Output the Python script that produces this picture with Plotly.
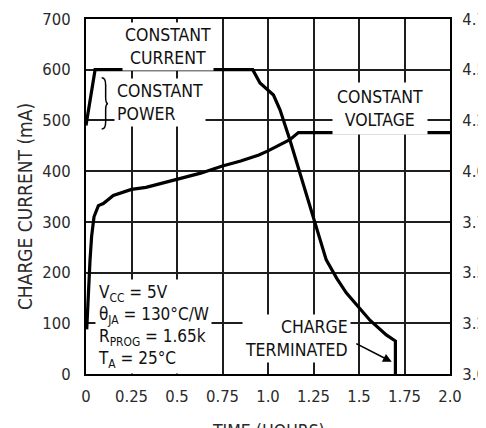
import plotly.graph_objects as go

# ---- data ----
time_current = [0.0, 0.05, 0.916, 0.956, 1.03, 1.066, 1.12, 1.176, 1.24, 1.32, 1.377, 1.43, 1.56, 1.65, 1.70, 1.70]
charge_current_ma = [490, 600, 600, 574, 550, 521, 462, 396, 318, 225, 189, 160, 106, 77, 65, 0]

time_voltage = [0.004, 0.013, 0.022, 0.031, 0.044, 0.068, 0.095, 0.15, 0.25, 0.33, 0.5, 0.63, 0.75, 0.85, 0.95, 1.0, 1.12, 1.167, 2.0]
battery_voltage_v = [3.22, 3.415, 3.56, 3.68, 3.775, 3.83, 3.84, 3.88, 3.91, 3.92, 3.96, 3.99, 4.025, 4.05, 4.08, 4.10, 4.155, 4.19, 4.19]

x_tickvals = [0, 0.25, 0.5, 0.75, 1.0, 1.25, 1.5, 1.75, 2.0]
x_ticktext = ["0", "0.25", "0.5", "0.75", "1.0", "1.25", "1.5", "1.75", "2.0"]
y_tickvals = [0, 100, 200, 300, 400, 500, 600, 700]
y2_tickvals = [3.0, 3.25, 3.5, 3.75, 4.0, 4.25, 4.5, 4.75]
y2_ticktext = ["3.00", "3.25", "3.50", "3.75", "4.00", "4.25", "4.50", "4.75"]

FONT = "DejaVu Sans Condensed, Liberation Sans Narrow, sans-serif"
INK = "#111111"
LABEL = "#2a2a2a"
GRID = "#1e1e1e"
ANN = 17.5

fig = go.Figure()
fig.add_trace(go.Scatter(x=time_current, y=charge_current_ma, mode="lines",
                         line=dict(color="#000000", width=3.2), showlegend=False, yaxis="y"))
fig.add_trace(go.Scatter(x=time_voltage, y=battery_voltage_v, mode="lines",
                         line=dict(color="#000000", width=3.2), showlegend=False, yaxis="y2"))

tickfont = dict(family=FONT, size=16.5, color=LABEL)

# the page body has an 8px margin, so the figure is sized/margined to land where the reference plot is
fig.update_layout(
    template="none",
    width=478, height=420,
    margin=dict(l=78, r=36, t=11, b=54, autoexpand=False),
    paper_bgcolor="white", plot_bgcolor="white",
    font=dict(family=FONT, color=INK),
    showlegend=False,
    xaxis=dict(range=[0, 2.0], tickvals=x_tickvals, ticktext=x_ticktext, automargin=False,
               showgrid=True, gridcolor=GRID, gridwidth=1.6,
               showline=True, linecolor="#000", linewidth=2, mirror=True,
               ticks="", tickfont=tickfont, ticklabelstandoff=6, zeroline=False),
    yaxis=dict(range=[0, 700], tickvals=y_tickvals, automargin=False,
               showgrid=True, gridcolor=GRID, gridwidth=1.6,
               showline=True, linecolor="#000", linewidth=2, mirror=True,
               ticks="", tickfont=tickfont, ticklabelstandoff=10, zeroline=False),
    yaxis2=dict(range=[3.0, 4.75], tickvals=y2_tickvals, ticktext=y2_ticktext, automargin=False,
                overlaying="y", side="right", showgrid=False, zeroline=False,
                showline=True, linecolor="#000", linewidth=2,
                ticks="", tickfont=tickfont, ticklabelstandoff=7),
)

def note(text, x, y, xanchor="center", yanchor="middle", align="center", bg="white", size=ANN, pad=2):
    fig.add_annotation(x=x, y=y, xref="x", yref="y", text=text, showarrow=False,
                       xanchor=xanchor, yanchor=yanchor, align=align,
                       bgcolor=bg, borderpad=pad,
                       font=dict(family=FONT, size=size, color=INK))

note("CONSTANT<br>CURRENT", 0.45, 646)
note("CONSTANT<br>POWER", 0.155, 535, xanchor="left", align="left")
note("CONSTANT<br>VOLTAGE", 1.615, 524, pad=4)
note("CHARGE<br>TERMINATED", 1.455, 70, xanchor="right", align="right")

note("V<sub>CC</sub> = 5V<br>θ<sub>JA</sub> = 130°C/W<br>R<sub>PROG</sub> = 1.65k<br>T<sub>A</sub> = 25°C",
     0.05, 93, xanchor="left", align="left", size=17)

# arrow to the termination point
fig.add_annotation(x=1.68, y=24, xref="x", yref="y", text="", showarrow=True,
                   ax=-37, ay=-19, arrowhead=2, arrowsize=1.1, arrowwidth=1.6, arrowcolor="#000")

# brace for "constant power"
fig.add_shape(type="path", xref="x", yref="y",
              path="M 0.086,584 Q 0.108,584 0.108,570 L 0.108,545 Q 0.108,533 0.121,533 "
                   "Q 0.108,533 0.108,521 L 0.108,497 Q 0.108,483 0.086,483",
              line=dict(color="#000", width=1.5))

# axis titles
fig.add_annotation(x=-0.1676, y=0.473, xref="paper", yref="paper", text="CHARGE CURRENT (mA)",
                   textangle=-90, showarrow=False, xanchor="center", yanchor="middle",
                   font=dict(family=FONT, size=19, color=LABEL))
fig.add_annotation(x=0.5, y=-0.1254, xref="paper", yref="paper", text="TIME (HOURS)",
                   showarrow=False, xanchor="center", yanchor="top",
                   font=dict(family=FONT, size=17.5, color=LABEL))

fig.write_html("out.html")
